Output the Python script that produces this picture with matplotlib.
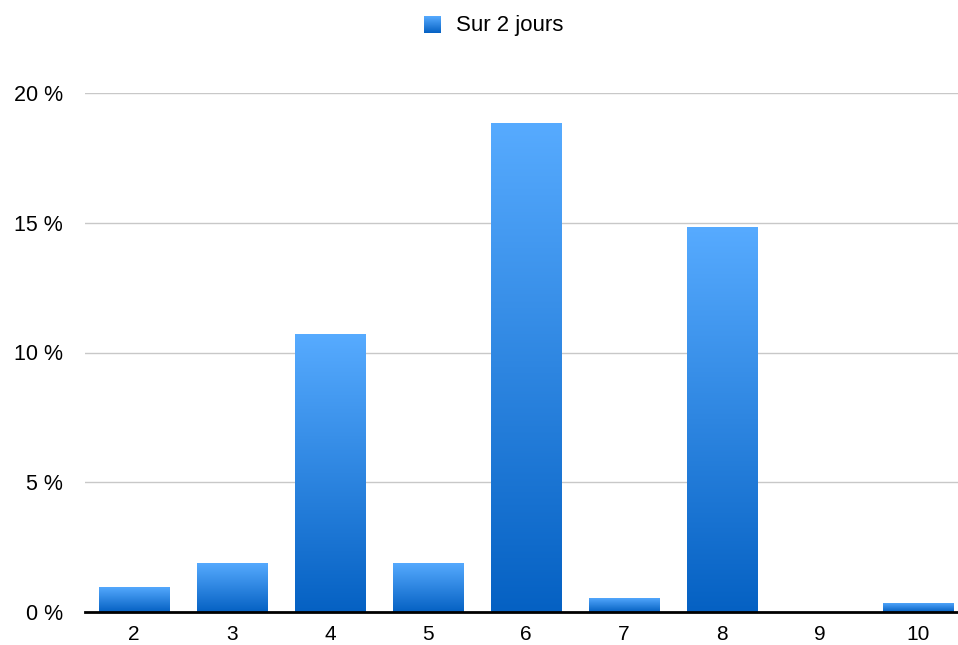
import numpy as np
import matplotlib
matplotlib.use("Agg")
import matplotlib.pyplot as plt
from matplotlib.colors import LinearSegmentedColormap

categories = ["2", "3", "4", "5", "6", "7", "8", "9", "10"]
values = [0.97, 1.9, 10.7, 1.9, 18.85, 0.55, 14.85, 0.0, 0.35]
yticks = [0, 5, 10, 15, 20]
series_name = "Sur 2 jours"

TOP = "#57abff"
BOTTOM = "#0561c3"
cmap = LinearSegmentedColormap.from_list("bar", [BOTTOM, TOP])
grad = np.linspace(0, 1, 256).reshape(-1, 1)

plt.rcParams["font.family"] = ["Liberation Sans", "DejaVu Sans"]

fig = plt.figure(figsize=(9.58, 6.45), dpi=100)
ax = fig.add_axes([85 / 958, 33 / 645, 1 - 85 / 958, (612 - 93) / 645])

x = np.arange(len(categories))
bars = ax.bar(x, values, width=0.72, color="none", zorder=3)
for b in bars:
    h = b.get_height()
    if h <= 0:
        continue
    x0 = b.get_x()
    im = ax.imshow(grad, cmap=cmap, origin="lower", aspect="auto",
                   extent=(x0, x0 + b.get_width(), 0, h), zorder=3)
    im.set_clip_path(b)

ax.set_xlim(-0.5, -0.5 + (958 - 85) / 98)
ax.set_ylim(0, 20)
ax.set_xticks(x)
ax.set_xticklabels(categories, fontsize=15)
ax.set_yticks(yticks)
ax.set_yticklabels([f"{t} %" for t in yticks], fontsize=15.5)
ax.tick_params(length=0)
ax.tick_params(axis="x", pad=9)
ax.tick_params(axis="y", pad=16)
ax.yaxis.grid(True, color="#c8c8c8", linewidth=1)
ax.set_axisbelow(True)
for s in ["top", "right", "left"]:
    ax.spines[s].set_visible(False)
ax.spines["bottom"].set_linewidth(2)
ax.spines["bottom"].set_zorder(4)

# legend with gradient swatch
lax = fig.add_axes([424 / 958, 1 - 33 / 645, 17 / 958, 17 / 645])
lax.imshow(grad, cmap=cmap, origin="lower", aspect="auto")
lax.axis("off")
fig.text(456 / 958, 1 - 25 / 645, series_name, fontsize=16, va="center", ha="left")

fig.savefig("out.png", dpi=100)
